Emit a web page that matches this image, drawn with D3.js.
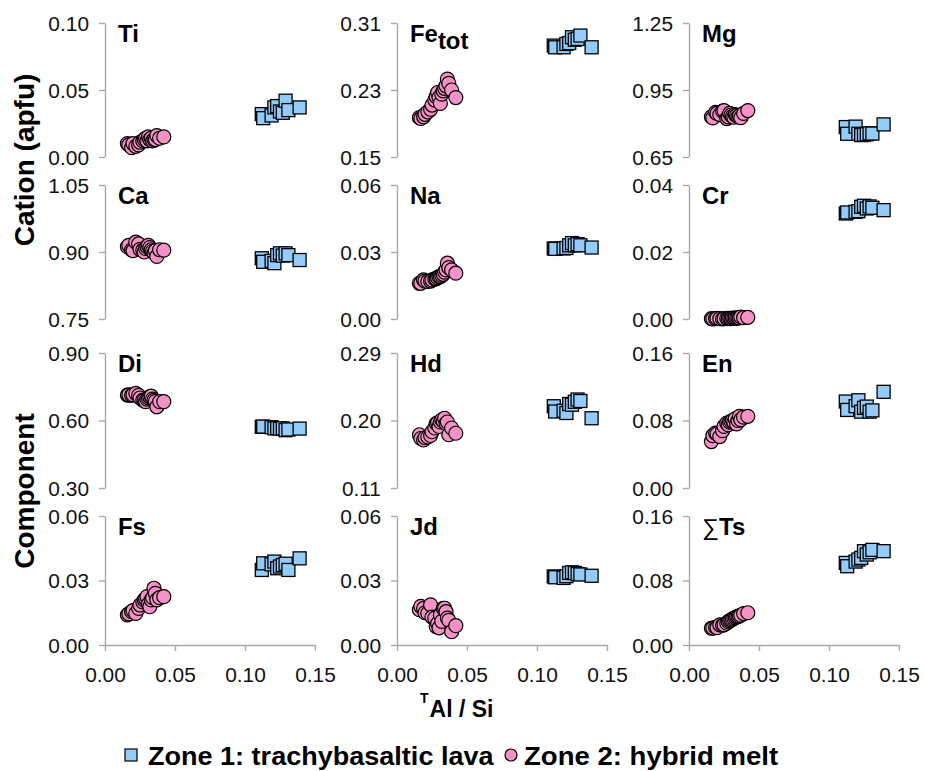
<!DOCTYPE html>
<html>
<head>
<meta charset="utf-8">
<script src="https://cdn.jsdelivr.net/npm/d3@7"></script>
<style>
  body { margin: 0; background: #fff; }
  svg { display: block; }
</style>
</head>
<body>
<svg id="chart" width="925" height="771"></svg>
<script>
// TAl/Si of each analysed clinopyroxene
const zone1X = [0.112, 0.113, 0.119, 0.121, 0.123, 0.125, 0.127, 0.129, 0.131, 0.139];
const zone2X = [0.016, 0.017, 0.019, 0.020, 0.022, 0.024, 0.025, 0.027, 0.028, 0.029,
                0.030, 0.031, 0.032, 0.033, 0.034, 0.035, 0.036, 0.037, 0.039, 0.042];

// Cations (apfu)
const tiZone1 = [0.032, 0.029, 0.031, 0.037, 0.038, 0.034, 0.033, 0.042, 0.035, 0.037];
const tiZone2 = [0.010, 0.009, 0.007, 0.010, 0.008, 0.009, 0.011, 0.012, 0.013, 0.014,
                 0.012, 0.015, 0.013, 0.014, 0.012, 0.013, 0.013, 0.016, 0.014, 0.015];
const feZone1 = [0.283, 0.281, 0.281, 0.285, 0.286, 0.293, 0.290, 0.291, 0.295, 0.281];
const feZone2 = [0.197, 0.196, 0.198, 0.201, 0.204, 0.207, 0.212, 0.218, 0.222, 0.227,
                 0.221, 0.214, 0.225, 0.229, 0.232, 0.235, 0.243, 0.238, 0.230, 0.221];
const mgZone1 = [0.784, 0.754, 0.786, 0.754, 0.748, 0.750, 0.752, 0.756, 0.755, 0.796];
const mgZone2 = [0.830, 0.825, 0.850, 0.845, 0.840, 0.855, 0.858, 0.822, 0.830, 0.845,
                 0.838, 0.832, 0.828, 0.840, 0.836, 0.830, 0.834, 0.826, 0.845, 0.858];
const caZone1 = [0.886, 0.878, 0.880, 0.875, 0.893, 0.897, 0.892, 0.897, 0.893, 0.882];
const caZone2 = [0.912, 0.915, 0.905, 0.903, 0.922, 0.918, 0.906, 0.904, 0.900, 0.908,
                 0.912, 0.915, 0.910, 0.905, 0.902, 0.898, 0.903, 0.890, 0.905, 0.904];
const naZone1 = [0.0316, 0.0314, 0.0316, 0.0318, 0.0330, 0.0340, 0.0330, 0.0335, 0.0330, 0.0320];
const naZone2 = [0.0160, 0.0160, 0.0175, 0.0170, 0.0168, 0.0170, 0.0175, 0.0180, 0.0180, 0.0185,
                 0.0190, 0.0190, 0.0195, 0.0200, 0.0210, 0.0220, 0.0250, 0.0230, 0.0220, 0.0205];
const crZone1 = [0.0315, 0.0318, 0.0320, 0.0322, 0.0335, 0.0338, 0.0330, 0.0336, 0.0332, 0.0325];
const crZone2 = [0.0001, 0.0000, 0.0001, 0.0002, 0.0001, 0.0000, 0.0001, 0.0002, 0.0001, 0.0002,
                 0.0001, 0.0003, 0.0002, 0.0003, 0.0002, 0.0004, 0.0003, 0.0006, 0.0004, 0.0005];

// Pyroxene end-member components
const diZone1 = [0.572, 0.573, 0.570, 0.565, 0.566, 0.564, 0.565, 0.557, 0.560, 0.564];
const diZone2 = [0.713, 0.714, 0.712, 0.715, 0.721, 0.712, 0.700, 0.691, 0.690, 0.684,
                 0.695, 0.700, 0.705, 0.708, 0.695, 0.690, 0.685, 0.661, 0.684, 0.684];
const hdZone1 = [0.219, 0.212, 0.213, 0.210, 0.222, 0.221, 0.225, 0.228, 0.226, 0.203];
const hdZone2 = [0.181, 0.176, 0.174, 0.177, 0.178, 0.180, 0.185, 0.190, 0.196, 0.197,
                 0.192, 0.198, 0.201, 0.199, 0.203, 0.196, 0.198, 0.181, 0.190, 0.183];
const enZone1 = [0.1025, 0.0925, 0.0970, 0.1040, 0.0905, 0.0950, 0.0965, 0.0905, 0.0920, 0.1140];
const enZone2 = [0.055, 0.062, 0.065, 0.064, 0.061, 0.068, 0.073, 0.077, 0.075, 0.078,
                 0.079, 0.080, 0.078, 0.082, 0.076, 0.080, 0.085, 0.081, 0.084, 0.085];
const fsZone1 = [0.0349, 0.0380, 0.0375, 0.0388, 0.0357, 0.0365, 0.0372, 0.0378, 0.0349, 0.0403];
const fsZone2 = [0.0140, 0.0145, 0.0155, 0.0160, 0.0147, 0.0170, 0.0186, 0.0200, 0.0210, 0.0215,
                 0.0225, 0.0190, 0.0178, 0.0210, 0.0220, 0.0264, 0.0240, 0.0210, 0.0220, 0.0225];
const jdZone1 = [0.0319, 0.0315, 0.0312, 0.0320, 0.0335, 0.0338, 0.0335, 0.0330, 0.0328, 0.0322];
const jdZone2 = [0.0164, 0.0180, 0.0170, 0.0150, 0.0148, 0.0187, 0.0130, 0.0125, 0.0086, 0.0100,
                 0.0080, 0.0140, 0.0110, 0.0170, 0.0171, 0.0155, 0.0125, 0.0115, 0.0062, 0.0090];
const tsZone1 = [0.1018, 0.0977, 0.1035, 0.1060, 0.1080, 0.1164, 0.1122, 0.1150, 0.1180, 0.1164];
const tsZone2 = [0.0208, 0.0210, 0.0220, 0.0215, 0.0250, 0.0245, 0.0250, 0.0270, 0.0290, 0.0300,
                 0.0310, 0.0320, 0.0330, 0.0340, 0.0350, 0.0353, 0.0360, 0.0370, 0.0390, 0.0400];

// Panel titles, y tick labels and x tick labels
const panelTitles = ["Ti", "Fe|tot", "Mg", "Ca", "Na", "Cr", "Di", "Hd", "En", "Fs", "Jd", "∑|Ts"];
const yTicks = [
  [0.00, 0.05, 0.10], [0.15, 0.23, 0.31], [0.65, 0.95, 1.25],
  [0.75, 0.90, 1.05], [0.00, 0.03, 0.06], [0.00, 0.02, 0.04],
  [0.30, 0.60, 0.90], [0.11, 0.20, 0.29], [0.00, 0.08, 0.16],
  [0.00, 0.03, 0.06], [0.00, 0.03, 0.06], [0.00, 0.08, 0.16]
];
const xTicks = [0.00, 0.05, 0.10, 0.15];
const zone1Series = [tiZone1, feZone1, mgZone1, caZone1, naZone1, crZone1,
                     diZone1, hdZone1, enZone1, fsZone1, jdZone1, tsZone1];
const zone2Series = [tiZone2, feZone2, mgZone2, caZone2, naZone2, crZone2,
                     diZone2, hdZone2, enZone2, fsZone2, jdZone2, tsZone2];
const legendLabels = ["Zone 1: trachybasaltic lava", "Zone 2: hybrid melt"];
const yTitles = ["Cation (apfu)", "Component"];
const xTitle = ["T", "Al / Si"];

// ---- layout & style ----
const FONT = "'Liberation Sans', Arial, Helvetica, sans-serif";
const TICK_SX = 1.02;           // slight horizontal widening of tick labels
const axisGray = "#a9a9a9";
const zone1Fill = "#94cbf8";
const zone2Fill = "#f592c5";
const colX = [105, 397, 689];
const panelW = 210;
const rowY = [[23, 157], [185, 319], [353, 488], [516, 645]];

const svg = d3.select("#chart");
svg.append("rect").attr("width", 925).attr("height", 771).attr("fill", "#fff");

const xDomain = [xTicks[0], xTicks[xTicks.length - 1]];

panelTitles.forEach((title, i) => {
  const col = i % 3, row = Math.floor(i / 3);
  const x0 = colX[col], top = rowY[row][0], bottom = rowY[row][1];
  const ticks = yTicks[i];
  const x = d3.scaleLinear().domain(xDomain).range([x0, x0 + panelW]);
  const y = d3.scaleLinear().domain([ticks[0], ticks[2]]).range([bottom, top]);

  const g = svg.append("g");

  // y axis
  const gy = g.append("g")
    .attr("transform", `translate(${x0},0)`)
    .call(d3.axisLeft(y).tickValues(ticks).tickFormat(d3.format(".2f"))
      .tickSize(6).tickSizeOuter(0).tickPadding(0));
  gy.attr("font-family", FONT).attr("font-size", 20.5);
  gy.select(".domain").attr("stroke", axisGray).attr("stroke-width", 1.4);
  gy.selectAll(".tick line").attr("stroke", axisGray).attr("stroke-width", 1.4);
  gy.selectAll(".tick text")
    .attr("fill", "#111")
    .attr("x", -16 / TICK_SX)
    .attr("dy", "0.36em")
    .attr("transform", `scale(${TICK_SX},1)`);

  // x axis on the bottom row only
  if (row === 3) {
    const gx = g.append("g")
      .attr("transform", `translate(0,${bottom})`)
      .call(d3.axisBottom(x).tickValues(xTicks).tickFormat(d3.format(".2f"))
        .tickSize(6).tickSizeOuter(0).tickPadding(16));
    gx.attr("font-family", FONT).attr("font-size", 20.5);
    gx.select(".domain").attr("stroke", axisGray).attr("stroke-width", 1.4);
    gx.selectAll(".tick line").attr("stroke", axisGray).attr("stroke-width", 1.4);
    gx.selectAll(".tick text").attr("fill", "#111")
      .attr("transform", `scale(${TICK_SX},1)`);
  }

  // panel title
  const parts = title.split("|");
  const tg = g.append("g")
    .attr("transform", `translate(${x0 + 13},${top + 19}) scale(1.04,1)`);
  const tt = tg.append("text")
    .attr("font-family", FONT).attr("font-size", 23).attr("font-weight", "bold")
    .attr("fill", "#000");
  if (parts.length === 1) {
    tt.text(parts[0]);
  } else if (parts[0] === "∑") {
    tt.append("tspan").attr("font-weight", "normal").text(parts[0]);
    tt.append("tspan").text(parts[1]);
  } else {
    tt.append("tspan").text(parts[0]);
    tt.append("tspan").attr("dy", 7).text(parts[1]);
  }

  // Zone 2 circles
  g.append("g").selectAll("circle")
    .data(zone2X.map((v, k) => [v, zone2Series[i][k]]))
    .join("circle")
    .attr("cx", d => x(d[0]))
    .attr("cy", d => y(d[1]))
    .attr("r", 7)
    .attr("fill", zone2Fill)
    .attr("stroke", "#000")
    .attr("stroke-width", 1.2);

  // Zone 1 squares
  const s = 13;
  g.append("g").selectAll("rect")
    .data(zone1X.map((v, k) => [v, zone1Series[i][k]]))
    .join("rect")
    .attr("x", d => x(d[0]) - s / 2)
    .attr("y", d => y(d[1]) - s / 2)
    .attr("width", s).attr("height", s)
    .attr("fill", zone1Fill)
    .attr("stroke", "#000")
    .attr("stroke-width", 1.3);
});

// y-axis titles
[[34, 160], [34, 491]].forEach((p, i) => {
  svg.append("g")
    .attr("transform", `translate(${p[0]},${p[1]}) rotate(-90)`)
    .append("text")
    .attr("text-anchor", "middle")
    .attr("font-family", FONT).attr("font-size", 28).attr("font-weight", "bold")
    .attr("fill", "#000")
    .text(yTitles[i]);
});

// x-axis title with superscript T
const xt = svg.append("text")
  .attr("x", 420).attr("y", 717)
  .attr("font-family", FONT).attr("font-weight", "bold").attr("fill", "#000");
xt.append("tspan").attr("font-size", 14).attr("dy", -14).text(xTitle[0]);
xt.append("tspan").attr("font-size", 23).attr("dy", 14).attr("dx", 1).text(xTitle[1]);

// legend
const lg = svg.append("g");
lg.append("rect").attr("x", 125).attr("y", 749).attr("width", 12).attr("height", 12)
  .attr("fill", zone1Fill).attr("stroke", "#000").attr("stroke-width", 1.2);
lg.append("g").attr("transform", `translate(148,765) scale(1.04,1)`)
  .append("text").attr("font-family", FONT).attr("font-size", 26)
  .attr("font-weight", "bold").attr("fill", "#000").text(legendLabels[0]);
lg.append("circle").attr("cx", 511).attr("cy", 755).attr("r", 6)
  .attr("fill", zone2Fill).attr("stroke", "#000").attr("stroke-width", 1.2);
lg.append("g").attr("transform", `translate(524,765) scale(1.06,1)`)
  .append("text").attr("font-family", FONT).attr("font-size", 26)
  .attr("font-weight", "bold").attr("fill", "#000").text(legendLabels[1]);
</script>
</body>
</html>
